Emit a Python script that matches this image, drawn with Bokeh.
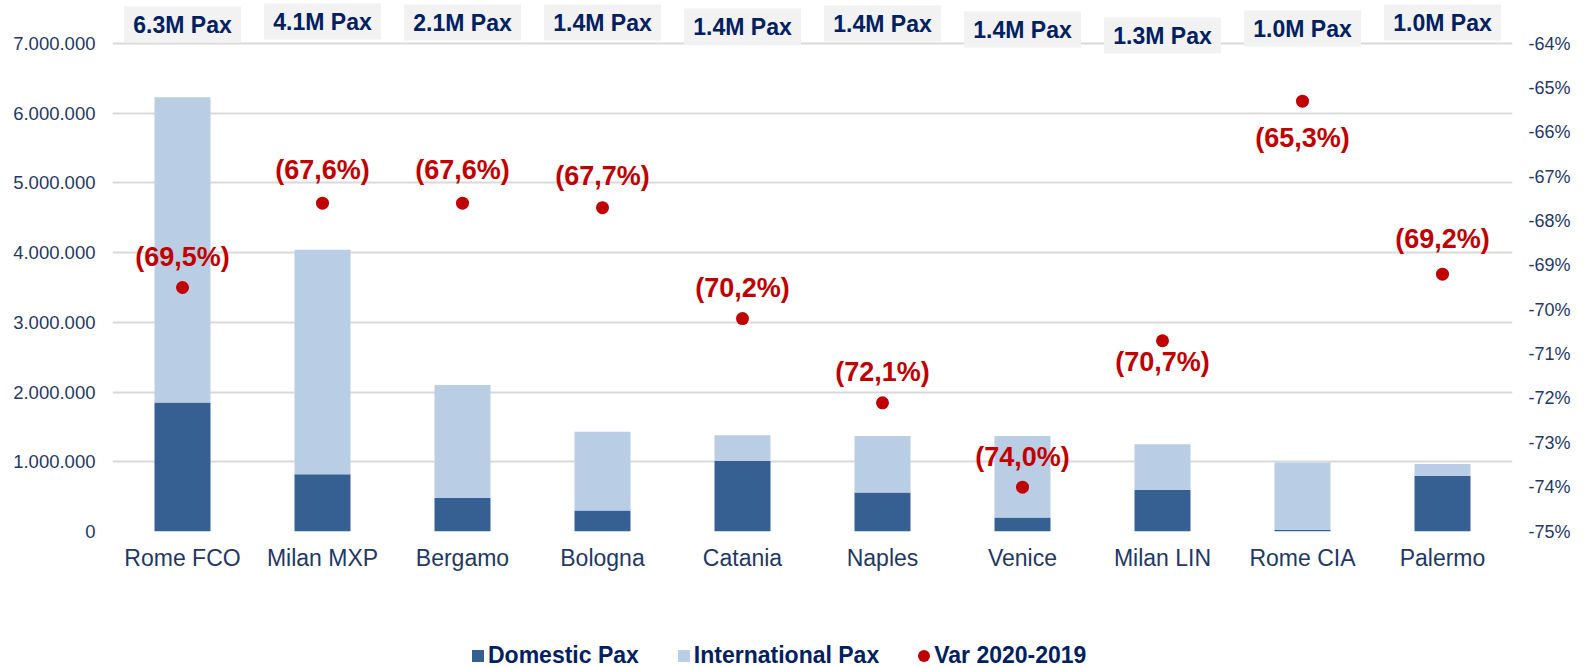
from bokeh.plotting import figure
from bokeh.layouts import column
from bokeh.models import (Range1d, FactorRange, LinearAxis, FixedTicker, ColumnDataSource,
                          Legend, LegendItem, PrintfTickFormatter)
from bokeh.embed import file_html
from bokeh.resources import INLINE
from bokeh.core.properties import value

# ---------------- data ----------------
airports = ["Rome FCO", "Milan MXP", "Bergamo", "Bologna", "Catania",
            "Naples", "Venice", "Milan LIN", "Rome CIA", "Palermo"]
domestic = [1850000, 820000, 480000, 300000, 1010000, 560000, 200000, 600000, 20000, 800000]
total_pax = [6230000, 4040000, 2100000, 1430000, 1380000, 1370000, 1370000, 1250000, 990000, 970000]
var_2020_2019 = [-69.5, -67.6, -67.6, -67.7, -70.2, -72.1, -74.0, -70.7, -65.3, -69.2]
total_labels = ["6.3M Pax", "4.1M Pax", "2.1M Pax", "1.4M Pax", "1.4M Pax",
                "1.4M Pax", "1.4M Pax", "1.3M Pax", "1.0M Pax", "1.0M Pax"]
left_ticks = [0, 1000000, 2000000, 3000000, 4000000, 5000000, 6000000, 7000000]
right_ticks = [-75, -74, -73, -72, -71, -70, -69, -68, -67, -66, -65, -64]
series_names = ["Domestic Pax", "International Pax", "Var 2020-2019"]

# ---------------- layout / style ----------------
box_dy = [-19, -22, -21, -21, -17, -20, -14, -8, -15, -21]        # px offsets of top boxes from 7M line
lab_dy = [-31, -33, -33, -32, -31, -31, -30, 21, 37, -35]         # px offsets of red labels from dots
FONT = "Liberation Sans"
NAVY = "#002060"
TICK = "#1f3864"
DARK = "#376092"
LIGHT = "#b9cde5"
RED = "#c00000"

W = 1585
H_MAIN, H_LEG = 637, 30
FRAME_H = 531
GRID_SPAN = 488   # px from 0 to 7M
y_end = 7000000 * FRAME_H / GRID_SPAN
r_end = -75 + 11 * FRAME_H / GRID_SPAN
data_per_px = 7000000 / GRID_SPAN

international = [t - d for t, d in zip(total_pax, domestic)]
pct_labels = ["({:.1f}%)".format(abs(v)).replace(".", ",") for v in var_2020_2019]
box_y = [7000000 - dy * data_per_px for dy in box_dy]

src = ColumnDataSource(dict(airport=airports, domestic=domestic, total=total_pax,
                            intl=international, var=var_2020_2019, plab=pct_labels,
                            ldy=lab_dy, tlab=total_labels, by=box_y))

p = figure(x_range=FactorRange(factors=airports), y_range=Range1d(0, y_end),
           width=W, height=H_MAIN, output_backend="svg", toolbar_location=None,
           min_border_left=112, min_border_right=73, min_border_top=0,
           min_border_bottom=H_MAIN - FRAME_H)
p.extra_y_ranges = {"pct": Range1d(-75, r_end)}
p.outline_line_color = None
p.background_fill_color = "white"
p.border_fill_color = "white"

# grid
p.xgrid.grid_line_color = None
p.ygrid.ticker = FixedTicker(ticks=left_ticks)
p.ygrid.grid_line_color = "#d9d9d9"
p.ygrid.grid_line_width = 2

# left axis
ya = p.yaxis[0]
ya.ticker = FixedTicker(ticks=left_ticks)
ya.major_label_overrides = {t: ("{:,}".format(t).replace(",", ".")) for t in left_ticks}
ya.axis_line_color = None
ya.major_tick_line_color = None
ya.minor_tick_line_color = None
ya.major_tick_out = 0
ya.major_label_standoff = 17
ya.major_label_text_font = FONT
ya.major_label_text_font_size = "18.5px"
ya.major_label_text_color = TICK

# right axis
ra = LinearAxis(y_range_name="pct", ticker=FixedTicker(ticks=right_ticks),
                formatter=PrintfTickFormatter(format="%d%%"))
ra.axis_line_color = None
ra.major_tick_line_color = None
ra.minor_tick_line_color = None
ra.major_tick_out = 0
ra.major_label_standoff = 16
ra.major_label_text_font = FONT
ra.major_label_text_font_size = "18px"
ra.major_label_text_color = TICK
p.add_layout(ra, "right")

# x axis
xa = p.xaxis[0]
xa.axis_line_color = None
xa.major_tick_line_color = None
xa.major_tick_out = 0
xa.major_label_standoff = 13
xa.major_label_text_font = FONT
xa.major_label_text_font_size = "23px"
xa.major_label_text_color = TICK

# bars
p.vbar(x="airport", top="domestic", width=0.4, source=src,
       fill_color=DARK, line_color=None)
p.vbar(x="airport", bottom="domestic", top="total", width=0.4, source=src,
       fill_color=LIGHT, line_color=None)

# dots
p.scatter(x="airport", y="var", size=13, source=src, y_range_name="pct",
          fill_color=RED, line_color=None)
p.text(x="airport", y="var", text="plab", source=src, y_range_name="pct",
       y_offset="ldy", text_align="center", text_baseline="middle",
       text_font=value(FONT), text_font_style="bold", text_font_size="27px",
       text_color=RED)

# top total boxes
p.rect(x="airport", y="by", width=117, height=36, width_units="screen",
       height_units="screen", source=src, fill_color="#f2f2f2", line_color=None)
p.text(x="airport", y="by", text="tlab", source=src, text_align="center",
       text_baseline="middle", text_font=value(FONT), text_font_style="bold",
       text_font_size="23px", text_color=NAVY)

# ---------------- legend strip (proxies use the same data, outside the strip's view) ----------------
pl = figure(width=W, height=H_LEG, output_backend="svg", toolbar_location=None,
            x_range=FactorRange(factors=airports), y_range=Range1d(1e9, 1e9 + 1),
            x_axis_type=None, y_axis_type=None,
            min_border_left=0, min_border_right=0, min_border_top=0, min_border_bottom=0)
pl.outline_line_color = None
pl.grid.visible = False
pl.background_fill_color = "white"
pl.border_fill_color = "white"
lg_dom = pl.vbar(x="airport", top="domestic", width=0.4, source=src,
                 fill_color=DARK, line_color=None)
lg_int = pl.vbar(x="airport", bottom="domestic", top="total", width=0.4, source=src,
                 fill_color=LIGHT, line_color=None)
lg_var = pl.ellipse(x="airport", y="var", width=13, height=13, width_units="screen",
                    height_units="screen", source=src, fill_color=RED, line_color=None)

legend = Legend(items=[LegendItem(label=series_names[0], renderers=[lg_dom]),
                       LegendItem(label=series_names[1], renderers=[lg_int]),
                       LegendItem(label=series_names[2], renderers=[lg_var])],
                orientation="horizontal", location=(358, -2))
legend.label_text_font = FONT
legend.label_text_font_style = "bold"
legend.label_text_font_size = "23px"
legend.label_text_color = NAVY
legend.glyph_width = 15
legend.glyph_height = 15
legend.label_standoff = 3
legend.spacing = 37
legend.padding = 0
legend.margin = 0
legend.border_line_color = None
legend.background_fill_alpha = 0
pl.add_layout(legend, "center")

layout = column(p, pl, spacing=0)
open("out.html", "w").write(file_html(layout, INLINE))
